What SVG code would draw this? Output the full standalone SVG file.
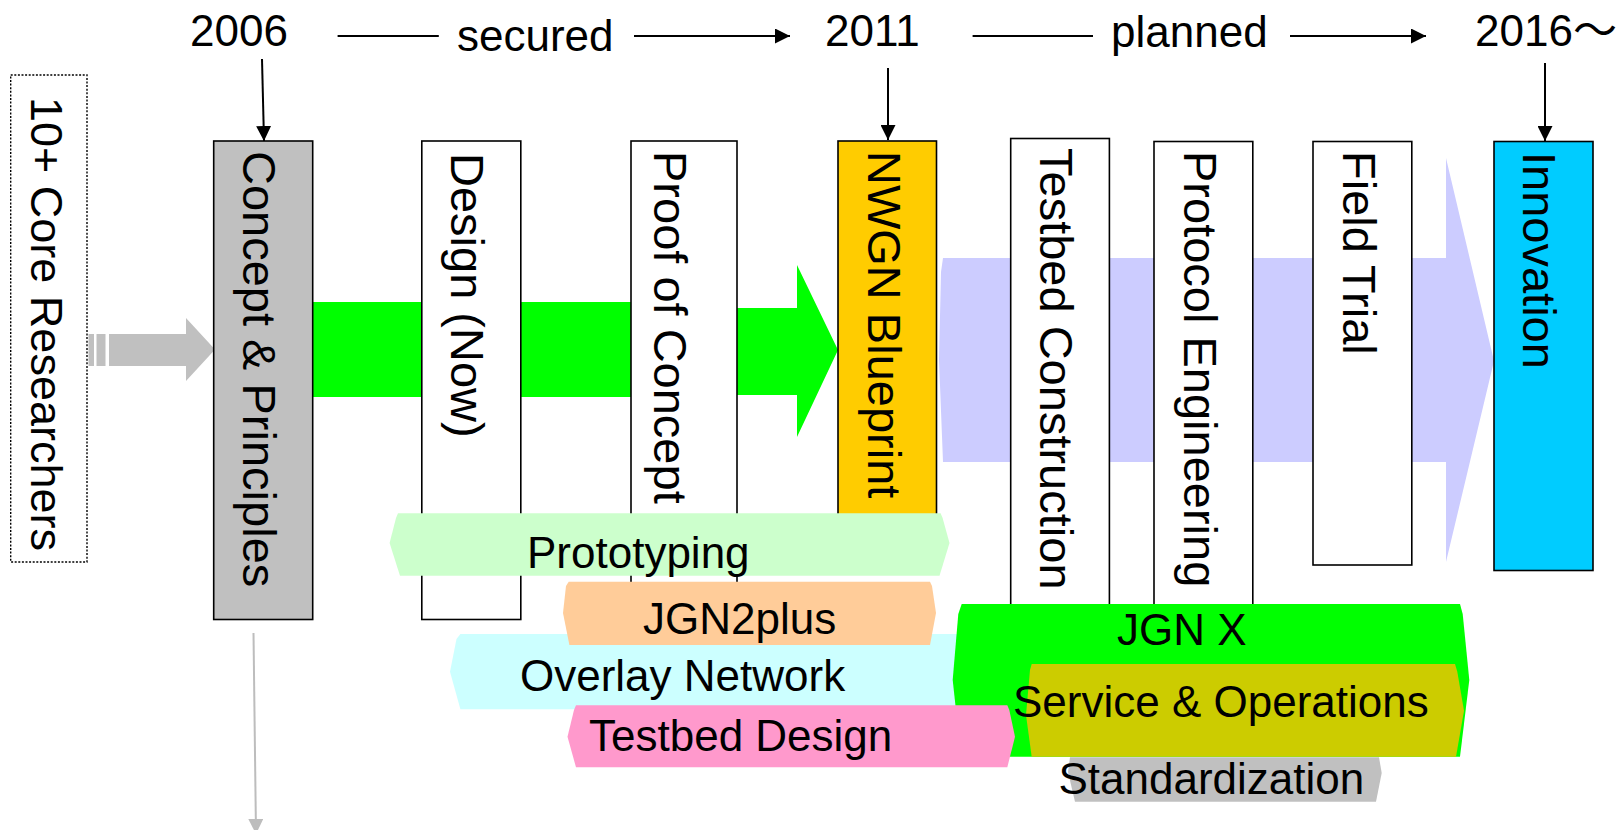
<svg xmlns="http://www.w3.org/2000/svg" width="1619" height="830" viewBox="0 0 1619 830">
  <style>
    text { font-family: "Liberation Sans", Arial, "Noto Sans CJK JP", sans-serif; fill: #000; }
    .h { font-size: 44px; }
    .v { font-size: 47px; }
    .box { stroke: #000; stroke-width: 1.6; }
    .dotted { fill: #fff; stroke: #000; stroke-width: 1.4; stroke-dasharray: 2 1.6; }
    .tl { stroke: #000; stroke-width: 2; fill: none; }
    .grayline { stroke: #bdbdbd; stroke-width: 2; fill: none; }
  </style>
  <defs>
    <marker id="head" markerUnits="userSpaceOnUse" markerWidth="15" markerHeight="15" viewBox="0 0 15 15" refX="15" refY="7.5" orient="auto">
      <path d="M0,0 L15,7.5 L0,15 Z" fill="#000"/>
    </marker>
    <marker id="headGray" markerUnits="userSpaceOnUse" markerWidth="15" markerHeight="15" viewBox="0 0 15 15" refX="15" refY="7.5" orient="auto">
      <path d="M0,0 L15,7.5 L0,15 Z" fill="#bdbdbd"/>
    </marker>
  </defs>
  <rect width="1619" height="830" fill="#fff"/>

  <!-- timeline -->
  <g id="timeline">
    <text class="h" x="190" y="45.5">2006</text>
    <text class="h" x="457" y="50.5">secured</text>
    <text class="h" x="825" y="45.5">2011</text>
    <text class="h" x="1111" y="47">planned</text>
    <text class="h" x="1475" y="45.5">2016～</text>
  </g>

  <!-- broad flow arrows behind the stage boxes -->
  <g id="flows">
    <g id="researchers-flow" fill="#c0c0c0">
      <rect x="88.5" y="334" width="5.5" height="32"/>
      <rect x="96.5" y="334" width="9" height="32"/>
      <polygon points="109,334 186,334 186,318 215,349.5 186,381 186,366 109,366"/>
    </g>
    <polygon id="secured-flow" fill="#00ff00" points="313,302 737,302 737,308 797,308 797,265 838,350 797,437 797,395 737,395 737,397 313,397"/>
    <polygon id="planned-flow" fill="#ccccff" points="943,258 1446,258 1446,158 1494,361 1446,562 1446,462 943,462 939,360 941,272"/>
  </g>

  <!-- stage boxes -->
  <g id="researchers">
    <rect class="dotted" x="10.7" y="75" width="76.3" height="487"/>
    <text style="font-size:45px" transform="translate(31,97) rotate(90)">10+ Core Researchers</text>
  </g>
  <g id="concept">
    <rect class="box" fill="#c0c0c0" x="213.7" y="141" width="99" height="478.5"/>
    <text class="v" transform="translate(243,151) rotate(90)">Concept &amp; Principles</text>
  </g>
  <g id="design">
    <rect class="box" fill="#fff" x="421.8" y="141" width="99" height="478.5"/>
    <text class="v" transform="translate(451,153) rotate(90)">Design (Now)</text>
  </g>
  <g id="proof">
    <rect class="box" fill="#fff" x="631" y="141" width="106" height="479"/>
    <text class="v" transform="translate(654,151) rotate(90)">Proof of Concept</text>
  </g>
  <g id="blueprint">
    <rect class="box" fill="#ffcc00" x="838" y="141" width="98.5" height="380"/>
    <text class="v" transform="translate(868,151) rotate(90)">NWGN Blueprint</text>
  </g>
  <g id="testbed-construction">
    <rect class="box" fill="#fff" x="1010.7" y="138.5" width="98.7" height="482"/>
    <text class="v" transform="translate(1040,148) rotate(90)">Testbed Construction</text>
  </g>
  <g id="protocol">
    <rect class="box" fill="#fff" x="1154" y="141.5" width="98.8" height="479"/>
    <text class="v" transform="translate(1184,151) rotate(90)">Protocol Engineering</text>
  </g>
  <g id="field-trial">
    <rect class="box" fill="#fff" x="1313" y="141.5" width="98.8" height="423.5"/>
    <text class="v" transform="translate(1343,151) rotate(90)">Field Trial</text>
  </g>
  <g id="innovation">
    <rect class="box" fill="#00ccff" x="1494" y="141.5" width="99" height="429"/>
    <text class="v" transform="translate(1523,152) rotate(90)">Innovation</text>
  </g>

  <!-- activity bands -->
  <g id="prototyping">
    <polygon fill="#ccffcc" points="398,513.3 940.6,513.3 942.6,518 949.5,543 939.5,575.7 400,575.7 389.6,543 396,518"/>
    <text class="h" x="527" y="568">Prototyping</text>
  </g>
  <g id="overlay">
    <polygon fill="#ccffff" points="460.4,634 965,634 970,671 965,709.3 460.4,709.3 450,671.7 456.5,639"/>
    <text class="h" x="520" y="690.7">Overlay Network</text>
  </g>
  <g id="jgn2plus">
    <polygon fill="#ffcc99" points="568.7,581.7 930,581.7 932,586 936,613 930,645 569.4,645 563,613 566,586"/>
    <text class="h" x="643" y="634">JGN2plus</text>
  </g>
  <g id="jgnx">
    <polygon fill="#00ff00" points="961.7,604 1460,604 1462.7,614 1469.3,680 1460,756.7 961,756.7 952.7,680 958.3,614"/>
    <text class="h" x="1117" y="645">JGN X</text>
  </g>
  <g id="testbed-design">
    <polygon fill="#ff99cc" points="576,705.3 1007.3,705.3 1009.3,710 1015,736.7 1007.3,767.3 576,767.3 567.5,736.7 574,710"/>
    <text class="h" x="589" y="750.7">Testbed Design</text>
  </g>
  <g id="service">
    <polygon fill="#cccc00" points="1031.7,664 1455,664 1457.3,671.7 1464,710.7 1456,756.7 1031.7,756.7 1026,715 1030,670"/>
    <text class="h" x="1013" y="717.3">Service &amp; Operations</text>
  </g>
  <g id="standardization">
    <polygon fill="#c0c0c0" points="1070,757.3 1379,757.3 1381.7,773 1376,801.7 1075,801.7 1068,772"/>
    <text class="h" x="1058.5" y="794">Standardization</text>
  </g>

  <!-- connectors -->
  <g id="connectors">
    <line class="tl" x1="337.6" y1="36" x2="438.8" y2="36"/>
    <line class="tl" x1="634" y1="36" x2="790" y2="36" marker-end="url(#head)"/>
    <line class="tl" x1="972.6" y1="36" x2="1093" y2="36"/>
    <line class="tl" x1="1290" y1="36" x2="1426" y2="36" marker-end="url(#head)"/>
    <line class="tl" x1="262" y1="59" x2="264" y2="141" marker-end="url(#head)"/>
    <line class="tl" x1="888" y1="68" x2="888" y2="140" marker-end="url(#head)"/>
    <line class="tl" x1="1545" y1="63" x2="1545" y2="141" marker-end="url(#head)"/>
    <line class="grayline" x1="253.5" y1="633" x2="256" y2="834" marker-end="url(#headGray)"/>
  </g>
</svg>
